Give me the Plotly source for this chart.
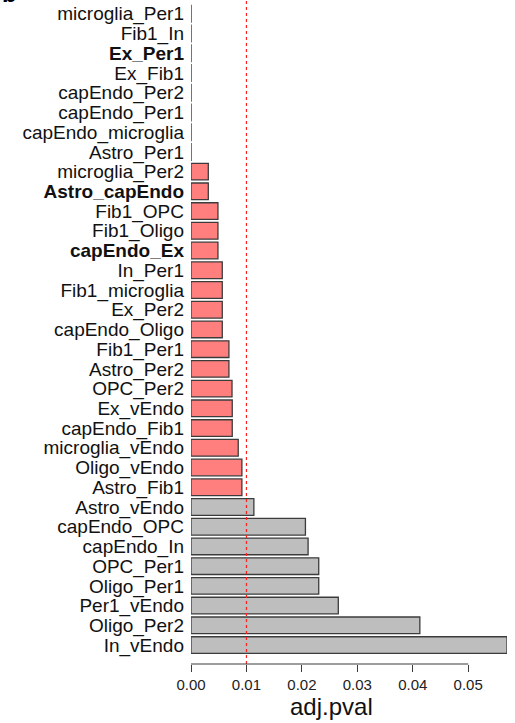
import plotly.graph_objects as go

# Pairwise comparisons, listed top to bottom, with adjusted p-values
pairs = [
    "microglia_Per1", "Fib1_In", "Ex_Per1", "Ex_Fib1", "capEndo_Per2",
    "capEndo_Per1", "capEndo_microglia", "Astro_Per1", "microglia_Per2",
    "Astro_capEndo", "Fib1_OPC", "Fib1_Oligo", "capEndo_Ex", "In_Per1",
    "Fib1_microglia", "Ex_Per2", "capEndo_Oligo", "Fib1_Per1", "Astro_Per2",
    "OPC_Per2", "Ex_vEndo", "capEndo_Fib1", "microglia_vEndo", "Oligo_vEndo",
    "Astro_Fib1", "Astro_vEndo", "capEndo_OPC", "capEndo_In", "OPC_Per1",
    "Oligo_Per1", "Per1_vEndo", "Oligo_Per2", "In_vEndo",
]
adj_pval = [
    0.00001, 0.00001, 0.00001, 0.00001, 0.00001,
    0.00001, 0.00001, 0.00001, 0.00312,
    0.00312, 0.00486, 0.00486, 0.00486, 0.00564,
    0.00564, 0.00564, 0.00564, 0.00684, 0.00684,
    0.00740, 0.00744, 0.00744, 0.00852, 0.00918,
    0.00918, 0.01134, 0.02064, 0.02112, 0.02304,
    0.02304, 0.02657, 0.04128, 0.05700,
]
bold_pairs = ["Ex_Per1", "Astro_capEndo", "capEndo_Ex"]
threshold = 0.01
x_ticks = [0.00, 0.01, 0.02, 0.03, 0.04, 0.05]

FONT = "Liberation Sans, Arial, sans-serif"
positions = list(range(len(pairs)))
colors = ["#FF7F7F" if v < threshold else "#BEBEBE" for v in adj_pval]
tick_text = [f"<b>{p}</b>" if p in bold_pairs else p for p in pairs]

fig = go.Figure()
fig.add_trace(go.Bar(
    x=adj_pval,
    y=positions,
    orientation="h",
    width=0.845,
    marker=dict(color=colors, line=dict(color="#3c3c3c", width=1.3)),
    hoverinfo="x+text",
    text=pairs,
    textposition="none",
))

# significance cutoff
fig.add_shape(type="line", xref="x", yref="paper", x0=threshold, x1=threshold,
              y0=0, y1=1, line=dict(color="#FF2020", width=1.2, dash="dot"))
# base-graphics style axis line spanning the ticks only
fig.add_shape(type="line", xref="x", yref="paper", x0=x_ticks[0], x1=x_ticks[-1],
              y0=0, y1=0, line=dict(color="#3c3c3c", width=1.2))

fig.add_annotation(text="adj.pval", xref="paper", yref="paper", x=(331.7 - 191) / 316.5,
                   y=0, yanchor="middle", yshift=-42.5, showarrow=False,
                   font=dict(family=FONT, size=24, color="#111111"))
# panel letter, sitting mostly above the page edge
fig.add_annotation(text="<b>b</b>", xref="paper", yref="paper", x=-191 / 316.5,
                   xanchor="left", y=1, yanchor="bottom", yshift=-9,
                   showarrow=False, font=dict(family=FONT, size=24, color="#000000"))

fig.update_layout(
    width=515, height=723,
    margin=dict(l=191, r=8, t=0, b=59),
    paper_bgcolor="white", plot_bgcolor="white",
    showlegend=False,
    font=dict(family=FONT, color="#111111"),
    xaxis=dict(
        range=[0, 0.0570], tickvals=x_ticks,
        ticktext=[f"{t:.2f}" for t in x_ticks],
        ticks="outside", ticklen=7, tickcolor="#3c3c3c", tickwidth=1.2,
        showline=False, showgrid=False, zeroline=False,
        tickfont=dict(family=FONT, size=15, color="#222222"),
    ),
    yaxis=dict(
        range=[32.96, -0.70], tickvals=positions, ticktext=tick_text,
        ticks="", showline=False, showgrid=False, zeroline=False,
        ticklabelstandoff=6,
        tickfont=dict(family=FONT, size=19, color="#111111"),
    ),
)

fig.write_html("out.html")
